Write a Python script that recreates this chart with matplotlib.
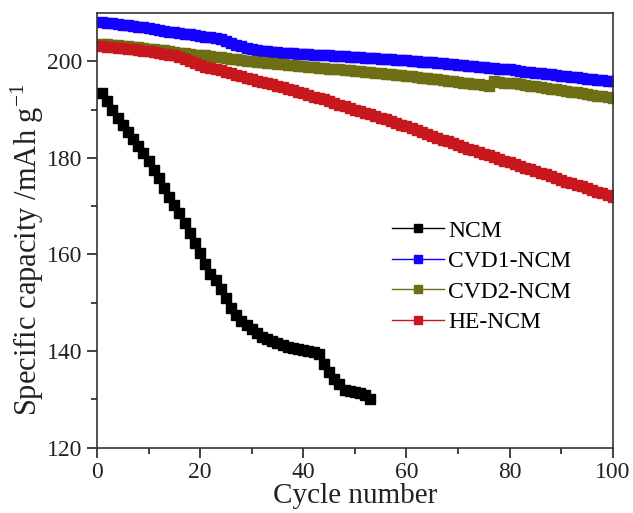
import matplotlib
matplotlib.use('Agg')
import matplotlib.pyplot as plt

plt.rcParams['font.family'] = ['Liberation Serif', 'DejaVu Serif']
plt.rcParams['mathtext.fontset'] = 'custom'
plt.rcParams['mathtext.rm'] = 'Liberation Serif'

# NCM, cycles 1-53
ncm_cycles = list(range(1, 54))
ncm = [193.5, 191.8, 190.0, 188.3, 186.8, 185.4, 184.0, 182.5, 181.0, 179.3,
       177.5, 175.8, 173.8, 172.0, 170.3, 168.5, 166.5, 164.5, 162.4, 160.3,
       158.0, 156.0, 154.7, 152.8, 150.9, 149.0, 147.5, 146.3, 145.4, 144.5,
       143.7, 143.0, 142.4, 142.0, 141.7, 141.2, 140.8, 140.6, 140.4, 140.2,
       140.0, 139.8, 139.5, 137.3, 135.6, 134.2, 133.1, 132.0, 131.7, 131.5,
       131.3, 130.9, 130.0]

# the coated samples, cycles 1-100
cycles = list(range(1, 101))
cvd1 = [208.1, 208.0, 207.9, 207.8, 207.6, 207.5, 207.4, 207.2, 207.1, 206.9,
        206.7, 206.5, 206.3, 206.1, 206.0, 205.8, 205.7, 205.6, 205.4, 205.3,
        205.1, 205.0, 204.8, 204.6, 204.2, 203.8, 203.4, 203.1, 202.8, 202.5,
        202.3, 202.2, 202.1, 202.0, 201.9, 201.8, 201.7, 201.7, 201.6, 201.6,
        201.5, 201.4, 201.3, 201.2, 201.2, 201.1, 201.0, 201.0, 200.9, 200.9,
        200.8, 200.7, 200.7, 200.6, 200.5, 200.5, 200.4, 200.3, 200.3, 200.2,
        200.1, 200.0, 199.9, 199.9, 199.8, 199.7, 199.6, 199.5, 199.4, 199.3,
        199.2, 199.1, 199.0, 198.9, 198.8, 198.7, 198.6, 198.5, 198.4, 198.3,
        198.1, 198.0, 197.8, 197.7, 197.6, 197.5, 197.4, 197.3, 197.1, 197.0,
        196.9, 196.8, 196.7, 196.6, 196.4, 196.3, 196.2, 196.1, 196.0, 195.9]
cvd2 = [203.6, 203.5, 203.4, 203.3, 203.2, 203.1, 203.0, 202.9, 202.7, 202.6,
        202.5, 202.4, 202.3, 202.1, 202.0, 201.8, 201.7, 201.6, 201.4, 201.3,
        201.2, 201.0, 200.9, 200.8, 200.6, 200.5, 200.4, 200.3, 200.1, 200.0,
        199.9, 199.8, 199.7, 199.6, 199.5, 199.4, 199.3, 199.2, 199.1, 199.0,
        198.9, 198.8, 198.7, 198.6, 198.5, 198.4, 198.3, 198.2, 198.1, 198.0,
        197.9, 197.8, 197.7, 197.6, 197.5, 197.4, 197.3, 197.2, 197.1, 197.0,
        196.9, 196.8, 196.6, 196.5, 196.4, 196.3, 196.1, 196.0, 195.9, 195.7,
        195.6, 195.5, 195.3, 195.2, 195.0, 194.9, 195.9, 195.8, 195.6, 195.5,
        195.4, 195.2, 195.1, 194.9, 194.8, 194.6, 194.5, 194.3, 194.2, 194.0,
        193.9, 193.7, 193.6, 193.4, 193.3, 193.1, 192.9, 192.8, 192.6, 192.4]
he = [203.1, 203.0, 202.9, 202.8, 202.7, 202.6, 202.5, 202.4, 202.2, 202.1,
      202.0, 201.8, 201.6, 201.4, 201.2, 200.8, 200.4, 200.0, 199.6, 199.2,
      198.9, 198.6, 198.4, 198.1, 197.8, 197.5, 197.2, 196.9, 196.6, 196.3,
      196.0, 195.7, 195.5, 195.2, 194.9, 194.6, 194.3, 194.0, 193.7, 193.4,
      193.1, 192.7, 192.4, 192.1, 191.7, 191.4, 191.0, 190.7, 190.3, 190.0,
      189.7, 189.3, 189.0, 188.6, 188.3, 188.0, 187.6, 187.3, 186.9, 186.6,
      186.2, 185.8, 185.4, 185.0, 184.6, 184.2, 183.8, 183.5, 183.1, 182.7,
      182.3, 181.9, 181.6, 181.2, 180.8, 180.5, 180.1, 179.8, 179.4, 179.1,
      178.7, 178.3, 178.0, 177.6, 177.3, 176.9, 176.6, 176.2, 175.9, 175.5,
      175.1, 174.8, 174.4, 174.1, 173.7, 173.4, 173.0, 172.7, 172.3, 172.0]

fig = plt.figure(figsize=(6.33, 5.13), dpi=100)
ax = fig.add_axes([0.1532, 0.1273, 0.8148, 0.8474])

ax.plot(ncm_cycles, ncm, '-s', color='black', ms=7, lw=1, label='NCM')
ax.plot(cycles, cvd1, '-s', color='#1400FF', ms=7, lw=1, label='CVD1-NCM')
ax.plot(cycles, cvd2, '-s', color='#6E6E14', ms=7, lw=1, label='CVD2-NCM')
ax.plot(cycles, he, '-s', color='#C8181E', ms=7, lw=1, label='HE-NCM')

ax.set_xlim(0, 100)
ax.set_ylim(120, 210)
ax.set_xticks([0, 20, 40, 60, 80, 100])
ax.set_xticks([10, 30, 50, 70, 90], minor=True)
ax.set_yticks([120, 140, 160, 180, 200])
ax.set_yticks([130, 150, 170, 190], minor=True)
ax.tick_params(which='major', direction='out', length=7, width=1.2, labelsize=17,
               top=False, right=False, colors='#222222', labelcolor='#222222')
ax.tick_params(which='minor', direction='out', length=4, width=1.2,
               top=False, right=False, colors='#222222')
for s in ax.spines.values():
    s.set_linewidth(1.2)
    s.set_color('#333333')

ax.set_xlabel('Cycle number', fontsize=21, labelpad=0, color='#222222')
ax.set_ylabel('Specific capacity /mAh g$^{\\mathregular{-1}}$', fontsize=22,
              color='#222222')
ax.yaxis.set_label_coords(-0.098, 0.455)

leg = ax.legend(loc='upper left', bbox_to_anchor=(0.553, 0.545), frameon=False,
                fontsize=17, handlelength=2.2, handletextpad=0.2,
                labelspacing=0.38, borderaxespad=0)
for h in leg.legend_handles:
    h.set_markersize(6)

fig.savefig('out.png', dpi=100)
